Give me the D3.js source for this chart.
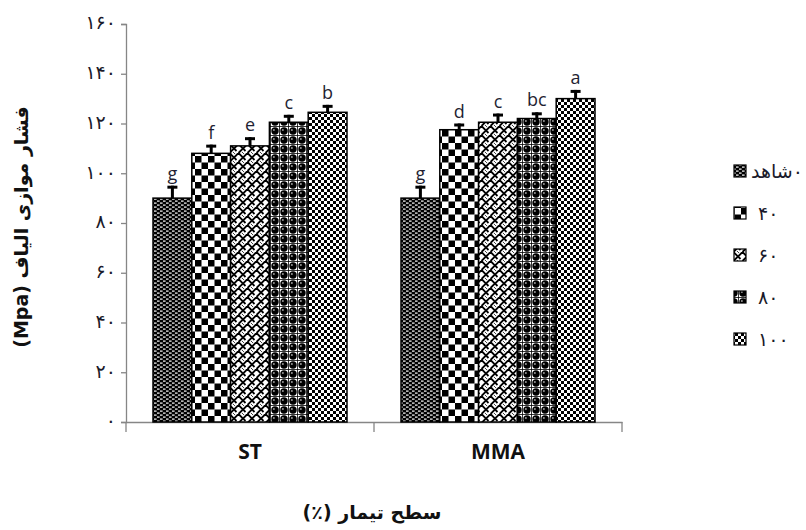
<!DOCTYPE html>
<html><head><meta charset="utf-8">
<script src="https://cdn.jsdelivr.net/npm/d3@7"></script>
<style>html,body{margin:0;padding:0;background:#fff;}svg{display:block;}</style>
</head><body>
<svg id="c" width="806" height="530"></svg>
<script>
const groups = ["ST", "MMA"];
const series = ["۰شاهد", "۴۰", "۶۰", "۸۰", "۱۰۰"];
const values = {
  "ST":  [90, 108, 111, 120.5, 124.5],
  "MMA": [90, 117.5, 120.5, 122, 130]
};
const errors = {
  "ST":  [5, 3.5, 3.5, 3, 3],
  "MMA": [5, 2.5, 3.5, 2.5, 3.5]
};
const letters = {
  "ST":  ["g", "f", "e", "c", "b"],
  "MMA": ["g", "d", "c", "bc", "a"]
};
const yTicks = [0, 20, 40, 60, 80, 100, 120, 140, 160];
const toFa = n => String(n).replace(/\d/g, d => "۰۱۲۳۴۵۶۷۸۹"[d]);

const svg = d3.select("#c");
const defs = svg.append("defs");

function pat(id, w, h, draw) {
  const p = defs.append("pattern").attr("id", id).attr("patternUnits", "userSpaceOnUse")
    .attr("width", w).attr("height", h);
  draw(p);
}
pat("p0", 6, 4, p => {
  p.append("rect").attr("width", 6).attr("height", 4).attr("fill", "#000");
  p.append("rect").attr("x", 1).attr("y", 0.5).attr("width", 2.6).attr("height", 1.2).attr("fill", "#fff");
  p.append("rect").attr("x", 4).attr("y", 2.5).attr("width", 2.6).attr("height", 1.2).attr("fill", "#fff");
  p.append("rect").attr("x", -2).attr("y", 2.5).attr("width", 2.6).attr("height", 1.2).attr("fill", "#fff");
});
pat("p1", 13, 13, p => {
  p.append("rect").attr("width", 13).attr("height", 13).attr("fill", "#fff");
  p.append("rect").attr("width", 6.5).attr("height", 6.5).attr("fill", "#000");
  p.append("rect").attr("x", 6.5).attr("y", 6.5).attr("width", 6.5).attr("height", 6.5).attr("fill", "#000");
});
pat("p2", 9, 9, p => {
  p.append("rect").attr("width", 9).attr("height", 9).attr("fill", "#fff");
  p.append("path").attr("d", "M0,4.5 L4.5,0 M4.5,9 L9,4.5 M4.5,0 L9,4.5 M0,4.5 L2.5,7").attr("stroke", "#000").attr("stroke-width", 1.8).attr("fill", "none");
  p.append("path").attr("d", "M-1,1 L1,-1 M8,10 L10,8").attr("stroke", "#000").attr("stroke-width", 1.8);
});
pat("p3", 9, 9, p => {
  p.append("rect").attr("width", 9).attr("height", 9).attr("fill", "#fff");
  p.append("path").attr("d", "M0,0.5 H9 M0.5,0 V9").attr("stroke", "#000").attr("stroke-width", 0.8);
  p.append("circle").attr("cx", 5).attr("cy", 5).attr("r", 3.7).attr("fill", "#000");
  p.append("circle").attr("cx", 3.9).attr("cy", 3.9).attr("r", 1).attr("fill", "#999");
});
pat("p4", 6, 6, p => {
  p.append("rect").attr("width", 6).attr("height", 6).attr("fill", "#fff");
  p.append("rect").attr("width", 3).attr("height", 3).attr("fill", "#000");
  p.append("rect").attr("x", 3).attr("y", 3).attr("width", 3).attr("height", 3).attr("fill", "#000");
});
const patIds = ["p0", "p1", "p2", "p3", "p4"];

const y = d3.scaleLinear().domain([0, 160]).range([422, 24]);
const x0 = d3.scaleBand().domain(groups).range([126, 622]);
const x1 = d3.scaleBand().domain(d3.range(series.length)).range([27, x0.bandwidth() - 27]);

// y axis
const yAxis = svg.append("g").attr("transform", "translate(126,0)")
  .call(d3.axisLeft(y).tickValues(yTicks).tickSize(5).tickPadding(5).tickFormat(toFa));
yAxis.select(".domain").attr("stroke", "#868686").attr("stroke-width", 1.3);
yAxis.selectAll(".tick line").attr("stroke", "#868686").attr("stroke-width", 1.3);
yAxis.selectAll(".tick text").attr("font-family", "DejaVu Sans").attr("font-size", 19)
  .attr("fill", "#1a1a2a").attr("dy", "0.25em");

// x axis
const xAxis = svg.append("g").attr("transform", "translate(0,422)")
  .call(d3.axisBottom(x0).tickSize(0).tickPadding(22));
xAxis.select(".domain").attr("stroke", "#868686").attr("stroke-width", 1.3);
xAxis.selectAll(".tick text").attr("font-family", "Open Sans").attr("font-weight", 700)
  .attr("font-size", 21).attr("fill", "#111");
const bounds = [x0.range()[0], ...groups.map(g => x0(g) + x0.bandwidth())];
xAxis.selectAll(".sep").data(bounds).join("line").attr("class", "sep")
  .attr("x1", d => d).attr("x2", d => d).attr("y1", 0).attr("y2", 10)
  .attr("stroke", "#868686").attr("stroke-width", 1.3);

// bars
const g = svg.append("g");
groups.forEach(grp => {
  values[grp].forEach((v, i) => {
    const bx = x0(grp) + x1(i);
    const bw = x1.bandwidth();
    g.append("rect").attr("x", bx).attr("y", y(v)).attr("width", bw).attr("height", y(0) - y(v))
      .attr("fill", `url(#${patIds[i]})`).attr("stroke", "#000").attr("stroke-width", 1.5);
    const cx = bx + bw / 2;
    const top = y(v + errors[grp][i]);
    g.append("line").attr("x1", cx).attr("x2", cx).attr("y1", y(v)).attr("y2", top)
      .attr("stroke", "#000").attr("stroke-width", 3);
    g.append("line").attr("x1", cx - 5).attr("x2", cx + 5).attr("y1", top + 1.5).attr("y2", top + 1.5)
      .attr("stroke", "#000").attr("stroke-width", 3);
    g.append("text").attr("x", cx).attr("y", top - 6).attr("text-anchor", "middle")
      .attr("font-family", "Open Sans").attr("font-size", 18).attr("fill", "#1f1f33")
      .text(letters[grp][i]);
  });
});

// legend
const leg = svg.append("g");
series.forEach((s, i) => {
  const ly = 172 + i * 42;
  leg.append("rect").attr("x", 734).attr("y", ly - 7).attr("width", 12).attr("height", 12)
    .attr("fill", `url(#${patIds[i]})`).attr("stroke", "#000").attr("stroke-width", 1.2);
  leg.append("text").attr("x", i === 0 ? 751 : 758).attr("y", ly + 6)
    .attr("direction", "rtl").attr("text-anchor", "end")
    .attr("font-family", "DejaVu Sans").attr("font-size", 19).attr("fill", "#1a1a2a").text(s);
});

// titles
svg.append("text").attr("transform", "translate(28,227) rotate(-90)").attr("text-anchor", "middle")
  .attr("direction", "rtl")
  .attr("font-family", "DejaVu Sans").attr("font-weight", 700).attr("font-size", 19).attr("fill", "#111")
  .text("فشار موازی الیاف (Mpa)");
svg.append("text").attr("x", 372).attr("y", 519).attr("text-anchor", "middle")
  .attr("direction", "rtl")
  .attr("font-family", "DejaVu Sans").attr("font-weight", 700).attr("font-size", 19).attr("fill", "#111")
  .text("سطح تیمار (٪)");
</script>
</body></html>
